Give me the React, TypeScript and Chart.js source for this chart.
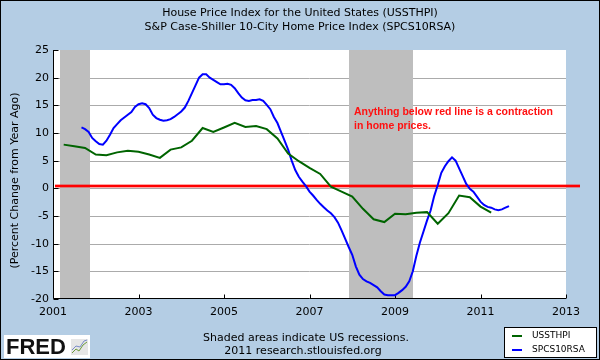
import React, { useEffect, useRef } from "react";
import { Chart, registerables } from "chart.js";

Chart.register(...registerables);

// ---- Data ----
const TITLE_LINES = [
  "House Price Index for the United States (USSTHPI)",
  "S&P Case-Shiller 10-City Home Price Index (SPCS10RSA)",
];
const Y_TITLE = "(Percent Change from Year Ago)";
const NOTE_LINES = ["Anything below red line is a contraction", "in home prices."];
const FOOTER_LINES = ["Shaded areas indicate US recessions.", "2011 research.stlouisfed.org"];

const X_MIN = 2001;
const X_MAX = 2013;
const X_STEP = 2;
const Y_MIN = -20;
const Y_MAX = 25;
const Y_STEP = 5;
const RED_LINE_VALUE = 0.4;

const RECESSIONS: [number, number][] = [
  [2001.17, 2001.87],
  [2007.92, 2009.42],
];

// USSTHPI, quarterly, first quarter = 2001 Q2
const USSTHPI_START = 2001.25;
const USSTHPI = [
  7.9, 7.6, 7.3, 6.1, 6.0, 6.5, 6.8, 6.6, 6.1, 5.5, 7.0, 7.4, 8.6, 10.9, 10.2, 11.0,
  11.85, 11.1, 11.25, 10.7, 9.0, 6.3, 4.9, 3.7, 2.6, 0.3, -0.6, -1.5, -3.7, -5.6, -6.1,
  -4.6, -4.7, -4.4, -4.3, -6.4, -4.5, -1.3, -1.6, -3.3, -4.4,
];

// SPCS10RSA, monthly, first month = Sep 2001
const SPCS_START = 2001 + 8 / 12;
const SPCS10RSA = [
  11.0, 10.7, 10.2, 9.1,
  8.5, 8.0, 7.9, 8.6, 9.7, 10.9, 11.6, 12.3, 12.8, 13.3, 13.8, 14.7,
  15.2, 15.35, 15.2, 14.5, 13.3, 12.7, 12.4, 12.2, 12.3, 12.5, 12.9, 13.4,
  13.9, 14.6, 15.8, 17.2, 18.6, 20.0, 20.6, 20.6, 20.0, 19.6, 19.2, 18.8,
  18.8, 18.9, 18.7, 18.1, 17.2, 16.4, 15.9, 15.8, 15.95, 15.95, 16.1, 15.8,
  15.1, 14.3, 12.9, 11.8, 10.2, 8.6, 7.0, 5.0, 3.3, 2.1, 1.2, 0.4,
  -0.6, -1.3, -2.1, -2.8, -3.4, -4.0, -4.5, -5.2, -6.2, -7.6, -9.1, -10.6,
  -12.0, -14.1, -15.6, -16.4, -16.8, -17.1, -17.5, -17.9, -18.6, -19.2, -19.3, -19.3,
  -19.3, -18.9, -18.4, -17.8, -16.8, -15.0, -12.2, -9.8, -7.8, -5.8, -4.0, -1.4,
  0.6, 2.8, 4.0, 4.9, 5.6, 5.0, 3.6, 2.2, 0.8, -0.1, -0.6, -1.5,
  -2.4, -3.0, -3.35, -3.5, -3.8, -3.95, -3.8, -3.5, -3.2,
];

const SERIES_NAMES = ["USSTHPI", "SPCS10RSA"];
const SERIES_COLORS = ["#006400", "#0000FF"];

// ---- Styles ----
const BG = "#B4CDE4";
const GRID = "#ABABAB";
const BAND = "#BEBEBE";
const FONT = '"DejaVu Sans", Verdana, sans-serif';

const fredPlugin = {
  id: "fredDecor",
  beforeDraw(chart: any) {
    const { ctx, chartArea: a, scales } = chart;
    const xs = scales.x;
    const ys = scales.y;
    ctx.save();
    ctx.fillStyle = BG;
    ctx.fillRect(0, 0, chart.width, chart.height);
    ctx.fillStyle = "#FFFFFF";
    ctx.fillRect(a.left, a.top, a.right - a.left, a.bottom - a.top);

    // grid lines
    ctx.strokeStyle = GRID;
    ctx.lineWidth = 1;
    for (let v = Y_MIN + Y_STEP; v < Y_MAX; v += Y_STEP) {
      const py = Math.round(ys.getPixelForValue(v)) + 0.5;
      ctx.beginPath();
      ctx.moveTo(a.left, py);
      ctx.lineTo(a.right, py);
      ctx.stroke();
    }

    // recession bands
    ctx.fillStyle = BAND;
    for (const [s, e] of RECESSIONS) {
      const x0 = Math.round(xs.getPixelForValue(s));
      const x1 = Math.round(xs.getPixelForValue(e));
      ctx.fillRect(x0, a.top, x1 - x0, a.bottom - a.top);
    }

    // red reference line
    const ry = ys.getPixelForValue(RED_LINE_VALUE);
    ctx.strokeStyle = "rgba(255,0,0,0.35)";
    ctx.lineWidth = 4;
    ctx.beginPath();
    ctx.moveTo(a.left + 2, ry);
    ctx.lineTo(a.right + 14, ry);
    ctx.stroke();
    ctx.strokeStyle = "#FF0000";
    ctx.lineWidth = 2;
    ctx.beginPath();
    ctx.moveTo(a.left + 2, ry);
    ctx.lineTo(a.right + 14, ry);
    ctx.stroke();

    // axes
    ctx.strokeStyle = "#000000";
    ctx.lineWidth = 1;
    const lx = Math.round(a.left) + 0.5;
    const by = Math.round(a.bottom) - 0.5;
    ctx.beginPath();
    ctx.moveTo(lx, a.top);
    ctx.lineTo(lx, by);
    ctx.lineTo(a.right, by);
    ctx.stroke();
    // inward ticks
    for (let v = Y_MIN; v <= Y_MAX; v += Y_STEP) {
      const py = Math.round(ys.getPixelForValue(v)) + 0.5;
      ctx.beginPath();
      ctx.moveTo(lx, py);
      ctx.lineTo(lx + 5, py);
      ctx.stroke();
    }
    for (let v = X_MIN; v <= X_MAX; v += X_STEP) {
      const px = Math.round(xs.getPixelForValue(v)) + 0.5;
      ctx.beginPath();
      ctx.moveTo(px, by);
      ctx.lineTo(px, by - 4);
      ctx.stroke();
    }
    ctx.restore();
  },
  afterDraw(chart: any) {
    const { ctx, chartArea: a } = chart;
    ctx.save();
    ctx.fillStyle = "#000";
    ctx.textBaseline = "middle";
    ctx.textAlign = "center";
    ctx.font = `11px ${FONT}`;
    ctx.fillText(TITLE_LINES[0], 300, 13);
    ctx.fillText(TITLE_LINES[1], 300, 27);

    // y title
    ctx.save();
    ctx.translate(15, (a.top + a.bottom) / 2 + 6);
    ctx.rotate(-Math.PI / 2);
    ctx.fillText(Y_TITLE, 0, 0);
    ctx.restore();

    // footer
    ctx.fillText(FOOTER_LINES[0], 306, 338);
    ctx.fillText(FOOTER_LINES[1], 303, 351);

    // note
    ctx.fillStyle = "#FF1010";
    ctx.textAlign = "left";
    ctx.font = `bold 10.5px "Liberation Sans", Arial, sans-serif`;
    ctx.fillText(NOTE_LINES[0], 354, 112);
    ctx.fillText(NOTE_LINES[1], 354, 126);

    // legend box
    ctx.fillStyle = "#FFFFFF";
    ctx.fillRect(504, 327, 93, 31);
    ctx.strokeStyle = "#000";
    ctx.lineWidth = 1;
    ctx.strokeRect(504.5, 327.5, 92, 30);
    ctx.font = `9px ${FONT}`;
    SERIES_NAMES.forEach((name, i) => {
      const yy = 336 + i * 14;
      ctx.strokeStyle = SERIES_COLORS[i];
      ctx.lineWidth = 2;
      ctx.beginPath();
      ctx.moveTo(512, yy);
      ctx.lineTo(522, yy);
      ctx.stroke();
      ctx.fillStyle = "#000";
      ctx.fillText(name, 532, yy);
    });

    // FRED logo
    ctx.fillStyle = "#FFFFFF";
    ctx.fillRect(4, 335, 86, 23);
    ctx.fillStyle = "#111";
    ctx.font = `bold 22px "Liberation Sans", Arial, sans-serif`;
    ctx.textAlign = "left";
    ctx.fillText("FRED", 6, 348);
    ctx.fillStyle = "#E6E6E6";
    ctx.fillRect(71, 339, 17, 16);
    ctx.lineWidth = 1;
    ctx.strokeStyle = "#6C9A3C";
    ctx.beginPath();
    ctx.moveTo(72, 353);
    ctx.lineTo(76, 349);
    ctx.lineTo(79, 351);
    ctx.lineTo(83, 345);
    ctx.lineTo(87, 342);
    ctx.stroke();
    ctx.strokeStyle = "#7A8CC8";
    ctx.beginPath();
    ctx.moveTo(72, 350);
    ctx.lineTo(76, 346);
    ctx.lineTo(80, 347);
    ctx.lineTo(84, 341);
    ctx.lineTo(87, 340);
    ctx.stroke();

    // outer border
    ctx.strokeStyle = "#000";
    ctx.lineWidth = 2;
    ctx.strokeRect(0, 0, chart.width, chart.height);
    ctx.restore();
  },
};

export default function App() {
  const ref = useRef<HTMLCanvasElement | null>(null);
  useEffect(() => {
    document.body.style.margin = "0";
    const canvas = ref.current;
    if (!canvas) return;
    const chart = new Chart(canvas, {
      type: "line",
      data: {
        datasets: [
          {
            label: SERIES_NAMES[0],
            data: USSTHPI.map((v, i) => ({ x: USSTHPI_START + i * 0.25, y: v })),
            borderColor: SERIES_COLORS[0],
            borderWidth: 2,
            pointRadius: 0,
            tension: 0,
            fill: false,
          },
          {
            label: SERIES_NAMES[1],
            data: SPCS10RSA.map((v, i) => ({ x: SPCS_START + i / 12, y: v })),
            borderColor: SERIES_COLORS[1],
            borderWidth: 2,
            pointRadius: 0,
            tension: 0,
            fill: false,
          },
        ],
      },
      options: {
        animation: false,
        responsive: false,
        devicePixelRatio: 1,
        layout: { padding: { top: 50, right: 34, left: 0, bottom: 0 } },
        plugins: {
          legend: { display: false },
          title: { display: false },
          tooltip: { enabled: false },
        },
        scales: {
          x: {
            type: "linear",
            min: X_MIN,
            max: X_MAX,
            ticks: {
              stepSize: X_STEP,
              callback: (v: any) => String(v),
              color: "#000",
              font: { family: FONT, size: 11 },
              padding: 7,
              maxRotation: 0,
            },
            grid: { display: false, drawTicks: false },
            border: { display: false },
            afterFit: (s: any) => {
              s.height = 61;
            },
          },
          y: {
            type: "linear",
            min: Y_MIN,
            max: Y_MAX,
            ticks: {
              stepSize: Y_STEP,
              color: "#000",
              font: { family: FONT, size: 11 },
              padding: 4,
            },
            grid: { display: false, drawTicks: false },
            border: { display: false },
            afterFit: (s: any) => {
              s.width = 53;
            },
          },
        },
      } as any,
      plugins: [fredPlugin],
    });
    return () => chart.destroy();
  }, []);
  return <canvas ref={ref} width={600} height={360} style={{ display: "block" }} />;
}
